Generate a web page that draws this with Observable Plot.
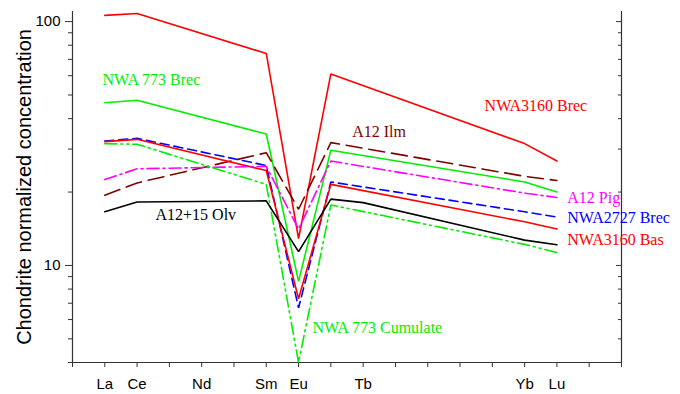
<!DOCTYPE html>
<html><head><meta charset="utf-8">
<script src="https://cdn.jsdelivr.net/npm/d3@7"></script>
<script src="https://cdn.jsdelivr.net/npm/@observablehq/plot@0.6"></script>
<style>html,body{margin:0;padding:0;background:#fff}</style>
</head><body><div id="chart"></div>
<script>
// REE positions (La=1 ... Lu=15); only elements where lines have vertices
const elements   = ["La","Ce","Sm","Eu","Gd","Tb","Yb","Lu"];
const elementPos = [1, 2, 6, 7, 8, 9, 14, 15];

// Chondrite-normalized values (null = no vertex there)
const nwa3160Brec = [106, 108, 74, 12.9, 61, null, 31.6, 26.8];
const nwa773Brec  = [46.5, 47.6, 34.6, 8.6, 29.7, null, 22.0, 20.0];
const a12Ilm      = [19.4, 21.8, 29.0, 17.0, 31.9, null, 23.2, 22.3];
const nwa2727Brec = [32.4, 33.2, 25.7, 6.7, 22.0, null, 16.6, 15.8];
const nwa3160Bas  = [32.2, 32.9, 24.5, 7.3, 21.5, null, 15.1, 14.1];
const a12Pig      = [22.5, 24.9, 25.5, 14.1, 26.8, null, 19.8, 19.0];
const nwa773Cum   = [31.6, 31.4, 21.5, 4.0, 17.7, null, 12.2, 11.3];
const a12Olv      = [16.6, 18.2, 18.4, 11.4, 18.7, 18.1, 12.7, 12.15];

// Axis tick labels
const tickNames     = ["La","Ce","Nd","Sm","Eu","Tb","Yb","Lu"];
const tickNamePos   = [1, 2, 4, 6, 7, 9, 14, 15];
const yMajorTicks   = [10, 100];
const yMinorTicks   = [4,5,6,7,8,9,20,30,40,50,60,70,80,90];

const series = [
  {name:"NWA3160 Brec",    values:nwa3160Brec, color:"#ff0000", dash:null,           lx:12.76, ly:45.1},
  {name:"NWA 773 Brec",    values:nwa773Brec,  color:"#00ee00", dash:null,           lx:0.93,  ly:57.9},
  {name:"A12 Ilm",         values:a12Ilm,      color:"#800000", dash:"16,7",         lx:8.66,  ly:35.3},
  {name:"NWA2727 Brec",    values:nwa2727Brec, color:"#0000ff", dash:"9,5",          lx:15.32, ly:15.66},
  {name:"NWA3160 Bas",     values:nwa3160Bas,  color:"#ff0000", dash:null,           lx:15.32, ly:12.78},
  {name:"A12 Pig",         values:a12Pig,      color:"#ff00ff", dash:"12,4,2,4",     lx:15.32, ly:19.0},
  {name:"NWA 773 Cumulate",values:nwa773Cum,   color:"#00ee00", dash:"12,4,2,4,2,4", lx:7.43,  ly:5.54},
  {name:"A12+15 Olv",      values:a12Olv,      color:"#000000", dash:null,           lx:2.57,  ly:16.18}
];

const lineMarks = series.map(s => {
  const rows = s.values.map((v,i) => ({x: elementPos[i], y: v})).filter(d => d.y != null);
  return Plot.line(rows, {x:"x", y:"y", stroke:s.color, strokeWidth:1.6, strokeDasharray:s.dash || undefined, strokeLinejoin:"miter"});
});
const labelMarks = series.map(s =>
  Plot.text([s.name], {x:() => s.lx, y:() => s.ly, text:d => d, fill:s.color, textAnchor:"start",
    fontFamily:"'Liberation Serif','Times New Roman',serif", fontSize:16})
);

const axisColor = "#333";
const chart = Plot.plot({
  width: 680, height: 394,
  marginLeft: 72, marginRight: 59, marginTop: 11, marginBottom: 32,
  style: {fontFamily: "'Liberation Sans', Arial, sans-serif", fontSize: "15px", background: "#fff", color: "#000"},
  x: {type: "linear", domain: [0, 17], axis: null},
  y: {type: "log", domain: [4, 110], axis: null},
  marks: [
    Plot.ruleX([0, 17], {stroke: axisColor, strokeWidth: 1.2}),
    Plot.ruleY([4], {stroke: axisColor, strokeWidth: 1.2}),
    // left axis (outward ticks)
    Plot.axisY({anchor: "left", ticks: yMajorTicks, tickSize: 7, tickPadding: 5, tickFormat: d => String(d), stroke: axisColor, label: null, fontSize: 15}),
    Plot.axisY({anchor: "left", ticks: yMinorTicks, tickSize: 4, text: null, stroke: axisColor, label: null}),
    // right axis (inward ticks)
    Plot.axisY({anchor: "right", ticks: yMajorTicks, tickSize: -6, text: null, stroke: axisColor, label: null}),
    Plot.axisY({anchor: "right", ticks: yMinorTicks, tickSize: -4, text: null, stroke: axisColor, label: null}),
    // bottom axis
    Plot.axisX({anchor: "bottom", ticks: d3.range(0, 18), tickSize: 5, text: null, stroke: axisColor, label: null}),
    Plot.axisX({anchor: "bottom", ticks: tickNamePos, tickSize: 0, tickPadding: 16,
      tickFormat: d => tickNames[tickNamePos.indexOf(d)], label: null, fontSize: 15}),
    Plot.text(["Chondrite normalized concentration"], {frameAnchor: "left", rotate: -90, dx: -48,
      textAnchor: "middle", fontSize: 20, fill: "#000", text: d => d}),
    ...lineMarks,
    ...labelMarks
  ]
});
document.getElementById("chart").appendChild(chart);
</script>
</body></html>
